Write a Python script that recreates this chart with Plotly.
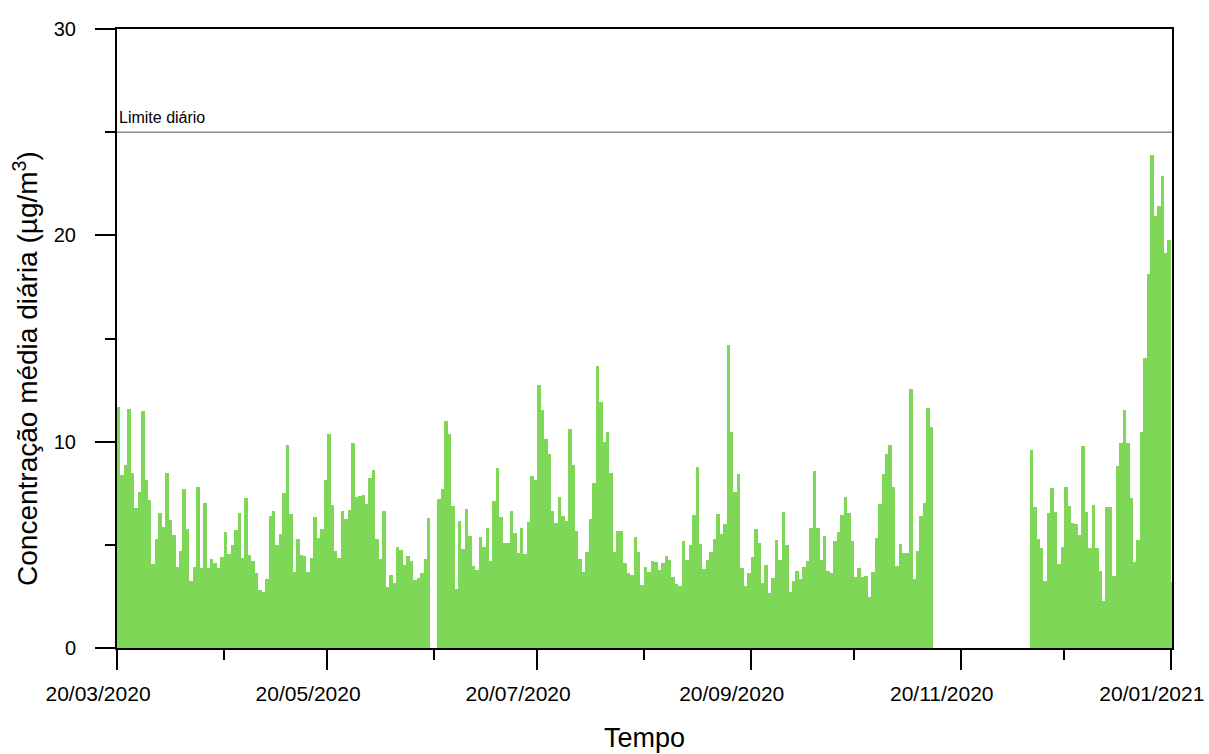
import plotly.graph_objects as go
import pandas as pd

# ---- data (daily mean concentration, µg/m3) ----
seg1_start = "2020-03-20"
seg1_values = [
    11.67, 8.39, 8.87, 11.57, 8.5, 6.77, 7.58, 11.5, 8.14, 7.17, 4.07, 5.27, 6.56, 5.88, 8.47,
    6.2, 5.48, 3.94, 4.69, 7.71, 5.75, 3.26, 3.94, 7.79, 3.86, 7.01, 3.86, 4.3, 4.1, 3.9,
    4.43, 5.61, 4.56, 4.98, 5.71, 6.53, 4.35, 7.26, 4.53,
    4.22, 3.62, 2.81, 2.73, 3.33, 6.41, 6.65, 4.98, 5.51, 7.53, 9.84, 6.5, 3.68, 5.3, 4.5,
    4.47, 3.66, 4.35, 6.34, 5.35, 5.77, 8.16, 10.38, 6.95, 4.69, 4.35, 6.64, 6.27, 6.69, 9.92,
    7.3, 7.37, 7.4, 6.98, 8.22, 8.63, 5.27, 4.3, 6.65,
    2.97, 3.54, 3.17, 4.91, 4.75, 4.02, 4.47, 4.22, 3.3, 3.41, 3.62, 4.31, 6.28,
]
seg2_start = "2020-06-21"
seg2_values = [
    7.21, 7.69, 11.0, 10.36, 6.9, 2.84, 6.15, 4.78, 6.74, 5.44, 3.99, 3.78, 5.4, 4.91, 5.84,
    4.22, 7.14, 8.72, 6.36, 5.1, 5.1, 6.65, 5.55, 4.6,
    5.8, 4.54, 6.12, 8.34, 8.14, 12.75, 11.54, 10.13, 9.4, 6.64, 6.07, 7.3, 6.4, 6.17, 10.63,
    8.89, 5.67, 4.31, 3.7, 4.67, 6.25, 7.98, 13.67, 11.94, 10.0, 10.45, 8.5, 4.67, 5.67, 5.67,
    4.1, 3.62, 3.52, 5.4, 4.67, 3.05, 3.94, 3.7, 4.22,
    4.18, 3.78, 4.1, 4.47, 4.26, 3.46, 3.09, 3.02, 5.19, 4.26, 4.99, 6.45, 8.76, 5.02, 3.83,
    4.26, 4.67, 5.27, 6.51, 5.53, 6.01, 14.69, 10.45, 7.58, 8.42, 3.89, 3.0, 3.62, 4.43, 5.77,
    5.07, 3.17, 4.02, 2.65, 3.38, 5.23, 4.26, 6.57, 4.99,
    2.73, 3.25, 3.75, 3.34, 3.91, 4.22, 5.8, 8.58, 5.8, 4.27, 5.43, 3.73, 3.62, 5.19, 5.61,
    6.45, 7.3, 6.53, 5.19, 3.46, 3.89, 3.46, 3.49, 2.49, 3.7, 5.32, 6.96, 8.42, 9.39, 9.84,
    7.79, 3.97, 5.04, 4.59, 4.59, 12.57, 3.34, 4.7, 6.4, 7.04, 11.62, 10.73,
]
seg3_start = "2020-12-10"
seg3_values = [
    9.6, 6.82, 5.27, 4.87, 3.25, 6.53, 7.74, 6.61, 4.06, 4.9, 7.82, 6.9, 6.07, 6.0, 5.47,
    9.79, 6.61, 4.83, 6.93, 4.83, 3.75, 2.28, 6.85, 6.85, 3.49, 8.82, 9.92, 11.54, 9.92, 7.25,
    4.18, 5.23, 10.49, 14.04, 18.11, 23.9, 20.94, 21.44, 22.88, 19.13, 19.78, 3.2,
]

major_ticks = ["2020-03-20", "2020-05-20", "2020-07-20", "2020-09-20", "2020-11-20", "2021-01-20"]
major_labels = ["20/03/2020", "20/05/2020", "20/07/2020", "20/09/2020", "20/11/2020", "20/01/2021"]
minor_ticks = ["2020-04-20", "2020-06-20", "2020-08-20", "2020-10-20", "2020-12-20"]
y_major = [0, 10, 20, 30]
y_minor = [5, 15, 25]
limit_value = 25
limit_label = "Limite diário"
x_title = "Tempo"
y_title = "Concentração média diária (µg/m<sup>3</sup>)"

# ---- build ----
dates, values = [], []
for start, vals in [(seg1_start, seg1_values), (seg2_start, seg2_values), (seg3_start, seg3_values)]:
    dates.extend(pd.date_range(start, periods=len(vals), freq="D"))
    values.extend(vals)

fig = go.Figure()
fig.add_bar(
    x=dates, y=values, width=86400000, offset=0,
    marker=dict(color="#7ED756", line=dict(width=0)),
    showlegend=False,
)

fig.add_shape(type="line", xref="paper", x0=0, x1=1, yref="y", y0=limit_value, y1=limit_value,
              line=dict(color="#555555", width=1))
fig.add_annotation(text=limit_label, xref="paper", x=0, xanchor="left", xshift=0,
                   yref="y", y=limit_value, yanchor="bottom", yshift=4,
                   showarrow=False, font=dict(size=16, color="black"))
fig.add_annotation(text=y_title, xref="paper", x=-0.0865, xanchor="center",
                   yref="paper", y=0.452, yanchor="middle", textangle=-90,
                   showarrow=False, font=dict(size=28, color="black"))

axis_common = dict(showline=True, linecolor="black", linewidth=2, mirror=True,
                   showgrid=False, zeroline=False, ticks="outside", tickcolor="black",
                   tickwidth=1.5, automargin=False)

fig.update_layout(
    width=1209, height=754,
    margin=dict(l=117, r=37, t=29, b=106),
    paper_bgcolor="white", plot_bgcolor="white",
    font=dict(family="Liberation Sans, Arial, sans-serif", color="black"),
    bargap=0,
    xaxis=dict(
        type="date", range=["2020-03-20", "2021-01-20 08:00"],
        tickvals=major_ticks, ticktext=major_labels, ticklen=20,
        tickfont=dict(size=21), ticklabelshift=-19, ticklabelstandoff=6,
        ticklabeloverflow="allow",
        title=dict(text=x_title, font=dict(size=27), standoff=24),
        minor=dict(tickvals=minor_ticks, ticks="outside", ticklen=10,
                   tickcolor="black", tickwidth=1.5, showgrid=False),
        **axis_common,
    ),
    yaxis=dict(
        range=[0, 30], tickvals=y_major, ticklen=20,
        tickfont=dict(size=20), ticklabelstandoff=15,
        minor=dict(tickvals=y_minor, ticks="outside", ticklen=10,
                   tickcolor="black", tickwidth=1.5, showgrid=False),
        **axis_common,
    ),
)

fig.write_html("out.html")
